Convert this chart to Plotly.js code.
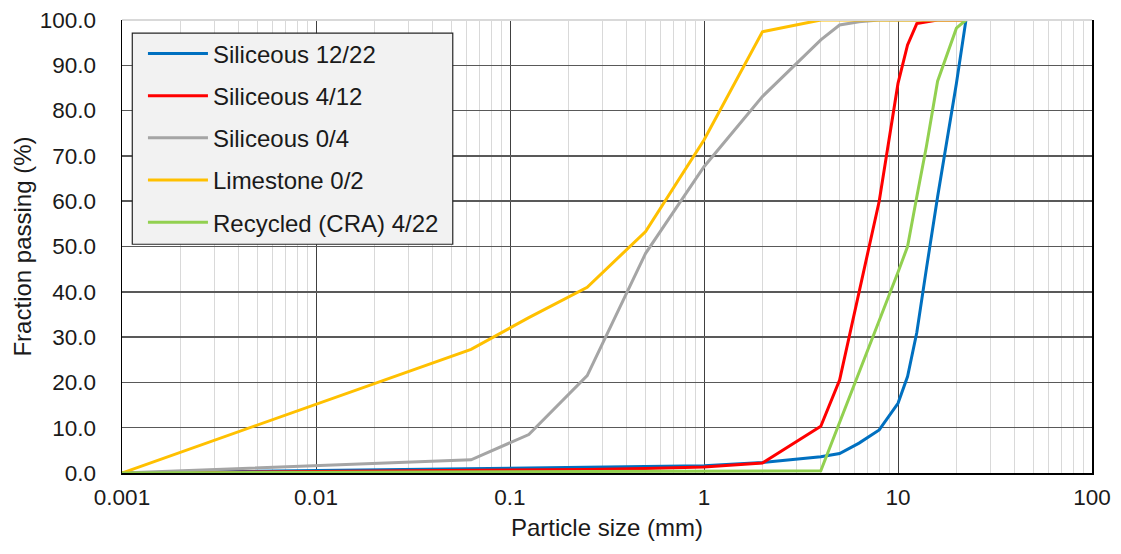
<!DOCTYPE html>
<html>
<head>
<meta charset="utf-8">
<script src="https://cdn.plot.ly/plotly-3.0.1.min.js"></script>
<style>html,body{margin:0;padding:0;background:#fff;}#chart{width:1121px;height:554px;}</style>
</head>
<body>
<div id="chart"></div>
<script>
// Sieve sizes (mm) and fraction passing (%)
const sizesSil1222 = [0.001, 0.063, 0.125, 0.25, 0.5, 1, 2, 4, 5, 6.3, 8, 10, 11.2, 12.5, 14, 16, 20, 22.4];
const passSil1222  = [0, 0.9, 1.0, 1.2, 1.4, 1.6, 2.3, 3.6, 4.3, 6.6, 9.5, 15.4, 21.3, 31, 45, 61, 86, 100];

const sizesSil412 = [0.001, 0.063, 0.125, 0.25, 0.5, 1, 2, 4, 5, 8, 10, 11.2, 12.5, 16, 22.4];
const passSil412  = [0, 0.5, 0.7, 0.8, 1.0, 1.3, 2.2, 10.3, 20.5, 60, 86, 94.5, 99.2, 100, 100];

const sizesSil04 = [0.001, 0.063, 0.125, 0.25, 0.5, 1, 2, 4, 5, 6.3, 8, 22.4];
const passSil04  = [0, 2.9, 8.5, 21.5, 48.5, 67.6, 83.1, 95.6, 98.9, 99.6, 100, 100];

const sizesLim02 = [0.001, 0.063, 0.125, 0.25, 0.5, 1, 2, 4, 22.4];
const passLim02  = [0, 27.3, 34.3, 41.0, 53.3, 73.5, 97.4, 100, 100];

const sizesCRA = [0.001, 1, 4, 10, 11.2, 12.5, 14, 16, 20, 22.4];
const passCRA  = [0, 0.3, 0.5, 44.3, 50, 61, 72, 86.5, 98.2, 100];

const seriesNames  = ['Siliceous 12/22', 'Siliceous 4/12', 'Siliceous 0/4', 'Limestone 0/2', 'Recycled (CRA) 4/22'];
const seriesColors = ['#0070C0', '#FF0000', '#A5A5A5', '#FFC000', '#92D050'];

const xTickVals = [0.001, 0.01, 0.1, 1, 10, 100];
const xTickText = ['0.001', '0.01', '0.1', '1', '10', '100'];
const yTickVals = [0, 10, 20, 30, 40, 50, 60, 70, 80, 90, 100];

const xs = [sizesSil1222, sizesSil412, sizesSil04, sizesLim02, sizesCRA];
const ys = [passSil1222, passSil412, passSil04, passLim02, passCRA];

const traces = seriesNames.map((n, i) => ({
  type: 'scatter', mode: 'lines', name: n,
  x: xs[i], y: ys[i],
  legendgroup: 'g' + i,
  line: {color: seriesColors[i], width: 3},
  hoverinfo: 'skip'
}));

// minor grid positions (2..9 within each decade)
const minorVals = [];
for (let d = -3; d < 2; d++) for (let k = 2; k <= 9; k++) minorVals.push(k * Math.pow(10, d));

const fam = 'Liberation Sans, Arial, sans-serif';
const tickFont = {family: fam, size: 22.5, color: '#1a1a1a'};
const bigFont = {family: fam, size: 24, color: '#1a1a1a'};

const layout = {
  width: 1121, height: 554,
  margin: {l: 122, r: 29, t: 20, b: 81},
  paper_bgcolor: '#fff', plot_bgcolor: '#fff',
  font: bigFont,
  showlegend: true,
  legend: {
    x: 0.0216, y: 0.975, xanchor: 'left', yanchor: 'top',
    bgcolor: 'rgba(0,0,0,0)', borderwidth: 0,
    font: bigFont, traceorder: 'grouped', tracegroupgap: 8,
    itemwidth: 60
  },
  xaxis: {
    type: 'log', range: [-3, 2],
    tickmode: 'array', tickvals: xTickVals, ticktext: xTickText,
    showgrid: true, gridcolor: '#404040', gridwidth: 1,
    minor: {tickmode: 'array', tickvals: minorVals, showgrid: true, gridcolor: '#D9D9D9', gridwidth: 1, ticks: ''},
    showline: true, linecolor: '#000', linewidth: 1.5, mirror: false,
    zeroline: false, ticks: '', ticklabelstandoff: 3,
    tickfont: tickFont,
    title: {text: 'Particle size (mm)', font: bigFont, standoff: 10}
  },
  yaxis: {
    range: [0, 100], tickmode: 'array', tickvals: yTickVals,
    tickformat: '.1f',
    showgrid: true, gridcolor: '#595959', gridwidth: 1.5,
    showline: true, linecolor: '#000', linewidth: 1.5, mirror: true,
    zeroline: false, ticks: '', ticklabelstandoff: 20,
    tickfont: tickFont,
    title: {text: 'Fraction passing (%)', font: bigFont, standoff: 1}
  },
  shapes: [
    {type: 'line', xref: 'paper', yref: 'paper', x0: 0, x1: 1, y0: 1, y1: 1,
     line: {color: '#D9D9D9', width: 2}, layer: 'above'},
    // legend frame
    {type: 'rect', xref: 'paper', yref: 'paper', x0: 0.0106, x1: 0.341, y0: 0.505, y1: 0.971,
     fillcolor: '#F2F2F2', line: {color: '#262626', width: 1.2}, layer: 'above'}
  ]
};

Plotly.newPlot('chart', traces, layout, {displayModeBar: false, staticPlot: true});
</script>
</body>
</html>
